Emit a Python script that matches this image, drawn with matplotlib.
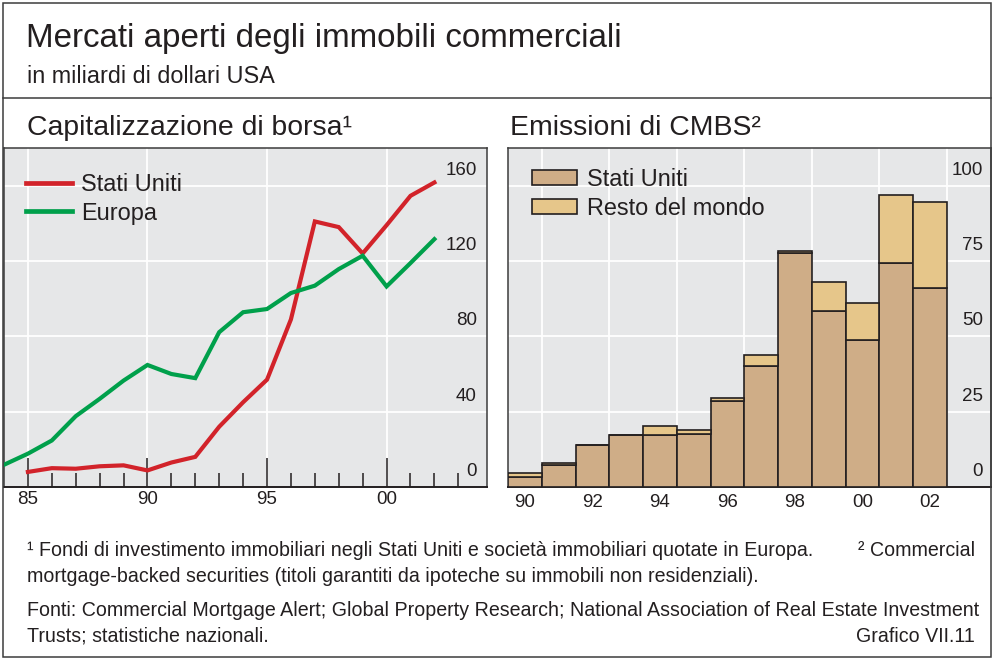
import numpy as np
import matplotlib
matplotlib.use("Agg")
import matplotlib.pyplot as plt
import matplotlib.transforms as mtransforms
from matplotlib.lines import Line2D
from matplotlib.patches import Rectangle

plt.rcParams['font.family'] = ['Liberation Sans', 'DejaVu Sans']

# capitalizzazione di borsa (miliardi di dollari USA)
anni_eu = list(range(1984, 2003))
europa = [11.8, 17.7, 24.7, 37.6, 46.8, 56.5, 64.8, 60.0, 57.8, 82.2,
          92.8, 94.5, 103.0, 106.9, 115.7, 122.8, 106.5, 118.9, 131.6]
anni_us = list(range(1985, 2003))
stati_uniti = [8.0, 10.0, 9.7, 11.0, 11.5, 8.8, 13.0, 16.0, 32.0, 45.0,
               57.0, 89.0, 141.0, 138.0, 124.0, 139.0, 154.6, 161.7]

# emissioni di CMBS
anni_cmbs = list(range(1990, 2003))
cmbs_us = [3.3, 7.4, 13.8, 17.1, 17.3, 17.7, 28.7, 40.3, 77.6, 58.3, 48.8, 74.3, 66.1]
cmbs_resto = [1.3, 0.7, 0.2, 0.3, 2.8, 1.1, 0.9, 3.5, 0.7, 9.6, 12.1, 22.5, 28.6]

ticks_sx = [0, 40, 80, 120, 160]
ticks_dx = [0, 25, 50, 75, 100]
anni_lbl_sx = [1985, 1990, 1995, 2000]
anni_lbl_dx = list(range(1990, 2003, 2))

# colori
BG = "#E6E7E8"
ROSSO = "#D2232A"
VERDE = "#00A04B"
TAN = "#CFAD87"
CHIARO = "#E6C68A"
INK = "#231F20"
FRAME = "#3C3C3C"

W, H = 995, 659
fig = plt.figure(figsize=(W / 100, H / 100), dpi=100)


def fx(px):
    return px / W


def fy(py):
    return 1 - py / H


def etichetta(yr):
    return "%02d" % (yr % 100)


# cornice e separatore
fig.patches.append(Rectangle((fx(3), fy(657)), (991 - 3) / W, (657 - 3) / H,
                             transform=fig.transFigure, fill=False,
                             lw=1.1, ec=FRAME))
fig.lines.append(Line2D([fx(3), fx(991)], [fy(98), fy(98)],
                        transform=fig.transFigure, lw=1.1, color=FRAME))

fig.text(fx(26), fy(47), "Mercati aperti degli immobili commerciali",
         fontsize=23.9, va="baseline", color=INK)
fig.text(fx(27), fy(83), "in miliardi di dollari USA",
         fontsize=16.8, va="baseline", color=INK)
fig.text(fx(27), fy(135), "Capitalizzazione di borsa¹",
         fontsize=20.4, va="baseline", color=INK)
fig.text(fx(510), fy(135), "Emissioni di CMBS²",
         fontsize=20.4, va="baseline", color=INK)

ax1 = fig.add_axes([fx(4), fy(487), (487 - 4) / W, (487 - 148) / H])
ax2 = fig.add_axes([fx(508), fy(487), (991 - 508) / W, (487 - 148) / H])

for ax in (ax1, ax2):
    ax.set_facecolor(BG)
    ax.set_axisbelow(True)
    for s in ax.spines.values():
        s.set_color(FRAME)
        s.set_linewidth(1.1)
    ax.spines["bottom"].set_linewidth(1.4)
    ax.spines["bottom"].set_color(INK)
    ax.tick_params(axis="y", left=False, labelleft=False)
    ax.tick_params(axis="x", labelsize=13.5, labelcolor=INK)

# --- pannello sinistro: linee
ax1.plot(anni_us, stati_uniti, color=ROSSO, lw=3.0, solid_joinstyle="miter", zorder=3)
ax1.plot(anni_eu, europa, color=VERDE, lw=3.0, solid_joinstyle="miter", zorder=3)
ax1.set_xlim(1984, 2004.2)
ax1.set_ylim(0, 180)
ax1.set_xticks(anni_lbl_sx)
ax1.set_xticklabels([etichetta(a) for a in anni_lbl_sx])
ax1.set_xticks(range(1985, 2004), minor=True)
ax1.set_yticks(ticks_sx[1:])
ax1.tick_params(axis="x", which="major", direction="in", length=21, width=1.1,
                color=INK, pad=3)
ax1.tick_params(axis="x", which="minor", direction="in", length=10, width=1.1,
                color=INK)
ax1.grid(True, which="major", color="white", lw=1.3)

leg1 = ax1.legend(handles=[Line2D([], [], color=ROSSO, lw=3.4),
                           Line2D([], [], color=VERDE, lw=3.4)],
                  labels=["Stati Uniti", "Europa"],
                  loc="upper left", bbox_to_anchor=(0.0455, 0.926),
                  frameon=False, fontsize=16.9, handlelength=1.97,
                  handletextpad=0.39, labelspacing=0.235,
                  borderpad=0, borderaxespad=0)
for t in leg1.get_texts():
    t.set_color(INK)

# --- pannello destro: barre sovrapposte
ax2.bar(anni_cmbs, cmbs_us, width=1.0, color=TAN, edgecolor=INK, lw=1.2, zorder=3)
ax2.bar(anni_cmbs, cmbs_resto, bottom=cmbs_us, width=1.0, color=CHIARO,
        edgecolor=INK, lw=1.2, zorder=3)
ax2.set_xlim(1989.5, 2003.81)
ax2.set_ylim(0, 112.5)
ax2.set_xticks(anni_lbl_dx)
ax2.set_xticklabels([etichetta(a) for a in anni_lbl_dx])
ax2.set_xticks(np.arange(1990.5, 2003, 2), minor=True)
ax2.set_yticks(ticks_dx[1:])
ax2.tick_params(axis="x", which="both", length=0, pad=5)
ax2.grid(True, which="major", axis="y", color="white", lw=1.3)
ax2.grid(True, which="minor", axis="x", color="white", lw=1.3)

leg2 = ax2.legend(handles=[Rectangle((0, 0), 1, 1, fc=TAN, ec=INK, lw=1.2),
                           Rectangle((0, 0), 1, 1, fc=CHIARO, ec=INK, lw=1.2)],
                  labels=["Stati Uniti", "Resto del mondo"],
                  loc="upper left", bbox_to_anchor=(0.05, 0.941),
                  frameon=False, fontsize=16.9, handlelength=1.93,
                  handleheight=0.6, handletextpad=0.39, labelspacing=0.235,
                  borderpad=0, borderaxespad=0)
for t in leg2.get_texts():
    t.set_color(INK)

# etichette dei valori sopra le griglie, a destra
for ax, ticks, xpos in ((ax1, ticks_sx, 0.979), (ax2, ticks_dx, 0.983)):
    tr = mtransforms.blended_transform_factory(ax.transAxes, ax.transData)
    tr = mtransforms.offset_copy(tr, fig=fig, x=0, y=15.5, units="dots")
    for v in ticks:
        ax.text(xpos, v, str(v), transform=tr, ha="right", va="center",
                fontsize=13.5, color=INK)

# note
FS = 14.1
fig.text(fx(27), fy(556), "¹ Fondi di investimento immobiliari negli Stati Uniti "
         "e società immobiliari quotate in Europa.", fontsize=FS, va="baseline", color=INK)
fig.text(fx(975), fy(556), "² Commercial", fontsize=FS, va="baseline",
         ha="right", color=INK)
fig.text(fx(27), fy(582), "mortgage-backed securities (titoli garantiti da ipoteche "
         "su immobili non residenziali).", fontsize=FS, va="baseline", color=INK)
fig.text(fx(27), fy(616), "Fonti: Commercial Mortgage Alert; Global Property Research; "
         "National Association of Real Estate Investment", fontsize=FS,
         va="baseline", color=INK)
fig.text(fx(27), fy(642), "Trusts; statistiche nazionali.", fontsize=FS,
         va="baseline", color=INK)
fig.text(fx(975), fy(642), "Grafico VII.11", fontsize=FS, va="baseline",
         ha="right", color=INK)

fig.savefig("out.png", dpi=100)
